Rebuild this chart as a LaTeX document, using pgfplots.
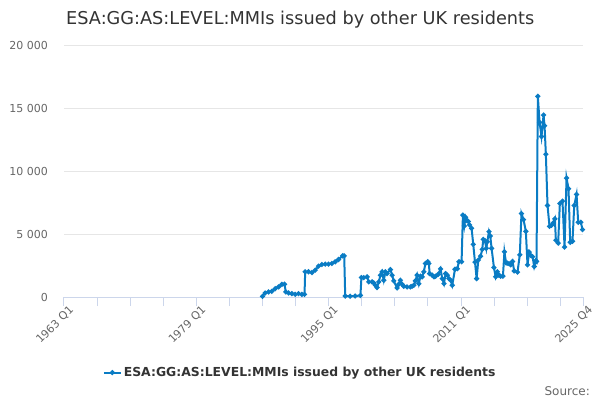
\documentclass[border=0pt]{standalone}
\usepackage{fontspec}
\setmainfont{DejaVu Sans}
\usepackage{pgfplots}
\pgfplotsset{compat=1.18}
\definecolor{linec}{HTML}{0A7CC4}
\definecolor{gridc}{HTML}{E6E6E6}
\definecolor{axisc}{HTML}{CCD6EB}
\definecolor{tickc}{HTML}{666666}
\definecolor{titlec}{HTML}{333333}
\begin{document}
\begin{tikzpicture}
\path[use as bounding box] (0,0) rectangle (600pt,400pt);
\node[anchor=base west, text=titlec, inner sep=0pt] at (66pt,375pt) {\fontsize{17.7}{20}\selectfont ESA:GG:AS:LEVEL:MMIs issued by other UK residents};
\node[anchor=base east, text=tickc, inner sep=0pt] at (590pt,5pt) {\fontsize{12}{14}\selectfont Source:};
\begin{axis}[
  at={(64pt,103pt)}, anchor=south west,
  scale only axis, width=519pt, height=252pt,
  xmin=1963, xmax=2025.75, ymin=0, ymax=20000,
  axis x line*=bottom, axis y line*=left,
  y axis line style={draw=none},
  x axis line style={color=axisc, line width=1pt, -},
  scaled y ticks=false,
  ytick={0,5000,10000,15000,20000},
  yticklabels={0,5 000,10 000,15 000,20 000},
  ymajorgrids, grid style={gridc, line width=0.8pt},
  y tick style={draw=none},
  yticklabel style={font=\fontsize{11}{13}\selectfont, text=tickc, anchor=east, inner sep=0pt, xshift=-7pt},
  xtick={1963,1979,1995,2011,2025.75},
  xticklabels={1963 Q1,1979 Q1,1995 Q1,2011 Q1,2025 Q4},
  minor xtick={1967,1971,1975,1983,1987,1991,1999,2003,2007,2015,2019,2023},
  tick align=outside, major tick length=9pt, minor tick length=9pt,
  x tick style={color=axisc, line width=1pt},
  minor x tick style={color=axisc, line width=1pt},
  xticklabel style={font=\fontsize{11}{13}\selectfont, text=tickc, rotate=45, anchor=east, inner sep=0pt, xshift=4pt, yshift=-7pt},
  legend style={at={(0.455,-0.30)}, anchor=center, draw=none, fill=none, font=\bfseries\fontsize{12.4}{15}\selectfont, text=titlec},
  legend cell align=left,
]
\addplot[color=linec, line width=2pt, mark=*, mark size=1.4pt] coordinates {
(1987.00,50) (1987.32,320) (1987.73,400) (1988.13,450) (1988.53,660) (1988.94,800)
(1989.34,1000) (1989.66,1010) (1989.82,400) (1990.15,320) (1990.55,270) (1990.95,210)
(1991.35,270) (1991.76,210) (1992.08,210) (1992.16,2000) (1992.56,2000) (1992.97,1940)
(1993.37,2130) (1993.77,2450) (1994.18,2580) (1994.58,2610) (1994.98,2610) (1995.39,2660)
(1995.79,2790) (1996.19,2980) (1996.68,3270) (1996.88,3270) (1997.00,80) (1997.60,60)
(1998.20,80) (1998.84,120) (1998.96,1540) (1999.24,1540) (1999.65,1600) (1999.85,1200)
(2000.25,1200) (2000.45,1120) (2000.65,930) (2000.85,750) (2001.06,1200) (2001.26,1730)
(2001.46,2000) (2001.66,1330) (2001.86,2000) (2002.06,1860) (2002.47,2180) (2002.67,1730)
(2002.87,1280) (2003.27,720) (2003.47,1010) (2003.67,1330) (2003.88,1010) (2004.08,850)
(2004.48,800) (2004.89,800) (2005.09,850) (2005.29,930) (2005.49,1280) (2005.69,1730)
(2005.90,1060) (2006.10,1650) (2006.30,1600) (2006.50,2000) (2006.70,2660) (2006.98,2800)
(2007.12,2660) (2007.20,1860) (2007.52,1730) (2007.73,1600) (2007.93,1650) (2008.25,1810)
(2008.53,2230) (2008.73,1460) (2008.94,1060) (2009.14,1860) (2009.34,1730) (2009.54,1460)
(2009.74,1330) (2009.94,930) (2010.27,2200) (2010.55,2250) (2010.75,2800) (2011.07,2800)
(2011.23,6500) (2011.40,5640) (2011.56,6330) (2011.72,6070) (2011.88,6000) (2012.04,5720)
(2012.28,5450) (2012.48,4180) (2012.69,2770) (2012.89,1460) (2013.09,2930) (2013.37,3240)
(2013.57,3780) (2013.69,4570) (2013.90,4470) (2014.06,3860) (2014.18,4390) (2014.38,5190)
(2014.54,4840) (2014.70,3860) (2014.98,2340) (2015.19,1600) (2015.39,2000) (2015.59,1730)
(2015.79,1650) (2016.07,1650) (2016.25,3590) (2016.45,2700) (2016.62,2690) (2016.82,2640)
(2017.02,2560) (2017.23,2820) (2017.43,2070) (2017.83,1970) (2018.11,3350) (2018.31,6620)
(2018.56,6140) (2018.84,5210) (2019.04,2550) (2019.24,3560) (2019.44,3300) (2019.65,3200)
(2019.85,2420) (2020.05,2900) (2020.13,2820) (2020.29,15930) (2020.50,13860) (2020.73,12740)
(2020.98,14440) (2021.10,13600) (2021.26,11330) (2021.46,7260) (2021.70,5610) (2021.94,5690)
(2022.15,5880) (2022.35,6200) (2022.47,4500) (2022.75,4280) (2022.95,7420) (2023.27,7610)
(2023.52,3960) (2023.76,9440) (2024.00,8590) (2024.20,4340) (2024.48,4420) (2024.69,7260)
(2024.97,8140) (2025.17,5930) (2025.49,5930) (2025.69,5350)
};
\addlegendentry{ESA:GG:AS:LEVEL:MMIs issued by other UK residents}
\end{axis}
\end{tikzpicture}
\end{document}
